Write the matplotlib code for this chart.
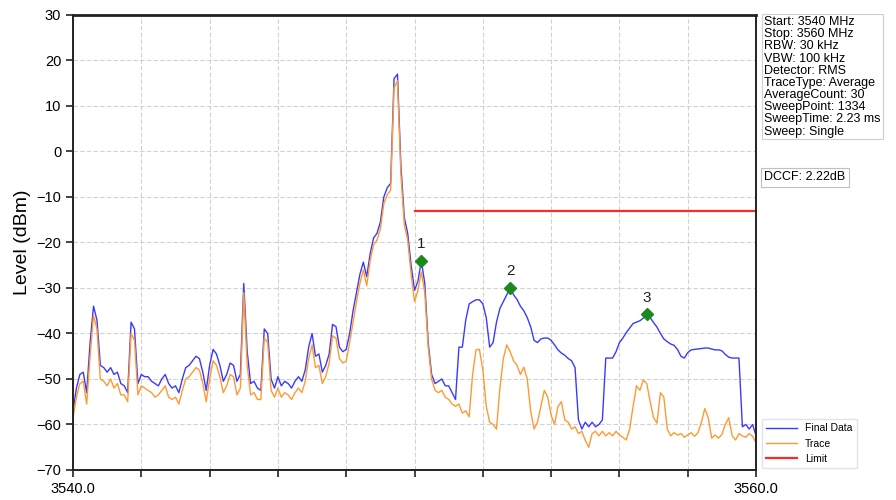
import numpy as np
import matplotlib
matplotlib.use("Agg")
import matplotlib.pyplot as plt

plt.rcParams['font.family'] = ['Liberation Sans', 'DejaVu Sans']

# sweep grid, 0.1 MHz steps from start to stop
START_MHZ = 3540.0
STOP_MHZ = 3560.0
freq = np.linspace(START_MHZ, STOP_MHZ, 201)

# Final Data (dBm), one value per grid point
final_data = [
    -57, -52, -49, -48.5, -53, -42, -34, -37, -47, -47.5,          # 3540.0
    -48.5, -47.5, -49, -48.5, -51, -51.5, -53, -37.5, -39, -51,    # 3541.0
    -49, -49.5, -49.5, -50.5, -51, -51.5, -50, -49, -51, -52,      # 3542.0
    -51.5, -53, -50, -47.5, -47, -46, -45, -45.5, -48.5, -52.5,    # 3543.0
    -47, -43.5, -44.5, -47, -50.5, -49, -46.5, -47, -50.5, -49,    # 3544.0
    -29, -44, -51, -50.5, -52, -52.5, -39, -40, -50, -52,          # 3545.0
    -49.5, -51.5, -50.5, -51, -52, -50.5, -49.5, -50.5, -48, -43,  # 3546.0
    -40, -45, -44.5, -48.5, -47, -44.5, -38, -38.5, -43, -44,      # 3547.0
    -43.5, -40, -35, -31, -27, -24.3, -27.5, -22.5, -19, -18,      # 3548.0
    -15.5, -10, -8, -7, 16, 17, -3, -14.5, -18, -25,               # 3549.0
    -30.5, -28.5, -24, -29, -42, -49, -51, -50.5, -50, -51.5,      # 3550.0
    -51.5, -53, -54.5, -43, -43, -37, -33.5, -33, -32.6, -32.6,    # 3551.0
    -33.5, -36.5, -43, -42, -37.5, -34.5, -33, -31.5, -30, -31.5,  # 3552.0
    -32.5, -34, -35, -36.5, -38.5, -41.5, -42, -41.2, -41, -41,    # 3553.0
    -41.5, -42.5, -43.6, -44.3, -44.8, -45.5, -46, -47.5, -59, -61,  # 3554.0
    -59.5, -60.5, -59.5, -60.5, -60, -59, -45.4, -45.4, -45.4, -44,  # 3555.0
    -42, -41, -39.8, -38.8, -37.8, -37.5, -37.2, -36.6, -35.8, -36.5,  # 3556.0
    -37.6, -38.6, -40, -41.2, -41.8, -42.3, -42.6, -43.5, -45, -45.4,  # 3557.0
    -44.2, -43.6, -43.5, -43.4, -43.3, -43.2, -43.2, -43.4, -43.6, -43.6,  # 3558.0
    -43.8, -44.6, -45.2, -45.4, -45.4, -45.4, -60.5, -60, -61, -60,  # 3559.0
    -62.5,                                                            # 3560.0
]

# Trace (dBm)
trace = [
    -58.5, -54, -51, -50.5, -55.5, -45, -36, -39, -50, -50.5,
    -51.5, -50, -52, -51, -53.5, -53.5, -55, -40, -41.5, -53.5,
    -51.5, -52, -52.5, -53, -54, -53.5, -52.5, -51.5, -54, -54.5,
    -54, -55.5, -52.5, -50, -49.5, -48.5, -47.5, -48, -51, -55,
    -50, -46, -47, -49.5, -53, -51.5, -49, -49.5, -53.5, -52,
    -31, -47, -53.5, -53, -54.5, -54.5, -41, -42, -52.5, -54,
    -52, -54, -53, -53.5, -54.5, -53, -52, -53, -50.5, -45.5,
    -42.5, -47.5, -47, -51, -49.5, -46.5, -40.5, -41, -45.5, -46.5,
    -46, -42, -37.5, -33, -29, -26, -29.5, -24, -20.5, -19.5,
    -17, -11.5, -9.5, -8.5, 14, 15.5, -5, -16, -19.5, -27,
    -33, -30.5, -26.5, -31, -43, -50, -52.5, -53, -52.5, -54,
    -54.5, -55.5, -56, -55.5, -57.5, -57, -58.3, -49, -43.6, -43.5,
    -48, -56, -59.5, -60, -61, -52, -45.5, -42.5, -44, -46,
    -47, -49, -47.4, -50, -57, -61, -59.5, -56, -52.5, -54,
    -58, -60, -56, -55, -59, -59.5, -61, -60.5, -62, -61.5,
    -63.5, -65, -62, -61.5, -62.5, -61.5, -62.5, -61.8, -62.5, -61.5,
    -62.3, -62.8, -63.4, -61, -56, -51.5, -52.5, -50.2, -51, -55,
    -58.5, -59.7, -53, -54, -61, -62.5, -61.8, -62.3, -62, -62.8,
    -62.3, -61.8, -62.6, -61.8, -59.5, -56.5, -58.5, -63, -62.3, -63,
    -62.2, -60, -58.5, -62.5, -63.4, -62, -62.5, -62.8, -62, -62.6,
    -64,
]

limit_freq = [3550.0, 3560.0]
limit_level = [-13, -13]

marker_freq = [3550.2, 3552.8, 3556.8]
marker_names = ['1', '2', '3']

settings = [
    "Start: 3540 MHz",
    "Stop: 3560 MHz",
    "RBW: 30 kHz",
    "VBW: 100 kHz",
    "Detector: RMS",
    "TraceType: Average",
    "AverageCount: 30",
    "SweepPoint: 1334",
    "SweepTime: 2.23 ms",
    "Sweep: Single",
]
dccf_text = "DCCF: 2.22dB"

fig = plt.figure(figsize=(8.96, 5.0), dpi=100)
ax = fig.add_axes([0.0815, 0.06, 0.7623, 0.91])

ax.plot(freq, final_data, color='#3a3aff', lw=1.0, label='Final Data')
ax.plot(freq, trace, color='#ff9a33', lw=1.0, label='Trace')
ax.plot(limit_freq, limit_level, color='#ff2a2a', lw=1.6, label='Limit')

# markers sit on the Final Data curve
for name, mf in zip(marker_names, marker_freq):
    idx = int(np.argmin(np.abs(freq - mf)))
    ax.plot(freq[idx], final_data[idx], marker='D', color='#1a8a1a',
            markersize=6, zorder=5)
    ax.annotate(name, (freq[idx], final_data[idx]), xytext=(0, 7),
                textcoords='offset points', ha='center', va='bottom',
                fontsize=11, color='#222222')

ax.set_xlim(START_MHZ, STOP_MHZ)
ax.set_ylim(-70, 30)
ax.set_xticks(np.arange(3540, 3561, 2))
ax.set_xticklabels(['3540.0'] + [''] * 9 + ['3560.0'])
ax.set_yticks(np.arange(-70, 31, 10))
ax.tick_params(axis='both', labelsize=10.5, length=5, width=1.2, color='#222222')
ax.grid(True, linestyle=(0, (4, 2)), color='#d2d2d2', lw=0.8)
ax.set_ylabel('Level (dBm)', fontsize=14, labelpad=4)

for side in ['top', 'bottom', 'left', 'right']:
    ax.spines[side].set_color('#222222')
    ax.spines[side].set_linewidth(1.4)
ax.spines['top'].set_linewidth(2.0)

fig.text(0.853, 0.968, "\n".join(settings), fontsize=9, va='top', ha='left',
         linespacing=1.02,
         bbox=dict(boxstyle='square,pad=0.15', fc='white', ec='#d0d0d0', lw=0.8))
fig.text(0.853, 0.645, dccf_text, fontsize=9, va='center', ha='left',
         bbox=dict(boxstyle='square,pad=0.25', fc='white', ec='#c0c0c0', lw=0.8))

ax.legend(loc='lower left', bbox_to_anchor=(1.005, 0.0), fontsize=7.5,
          frameon=True, edgecolor='#dddddd', fancybox=False,
          handlelength=3, borderaxespad=0.2)

fig.savefig('out.png', dpi=100)
